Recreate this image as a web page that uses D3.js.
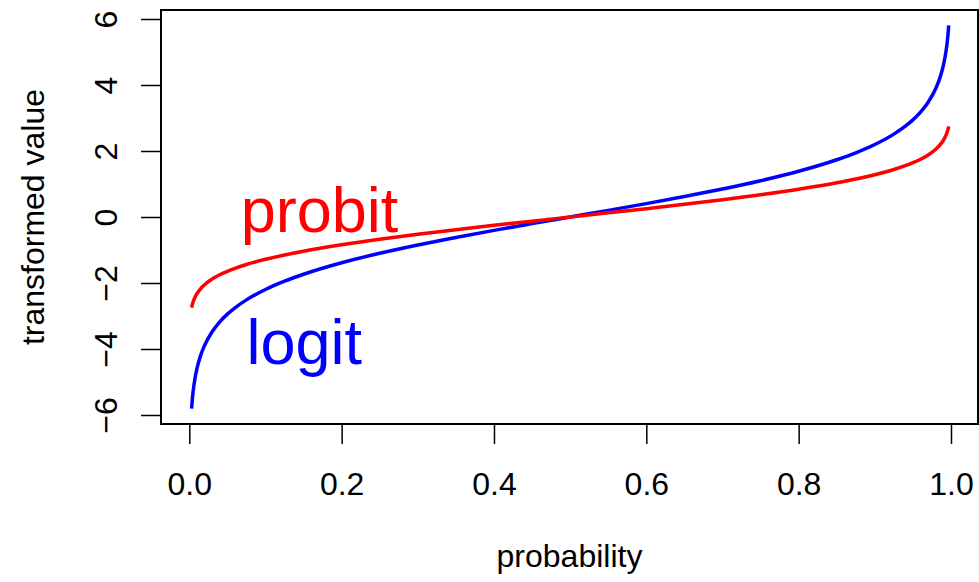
<!DOCTYPE html>
<html>
<head>
<meta charset="utf-8">
<script src="https://cdn.jsdelivr.net/npm/d3@7"></script>
<style>
  html, body { margin: 0; padding: 0; background: #fff; }
  svg text { font-family: "Liberation Sans", Arial, Helvetica, sans-serif; }
</style>
</head>
<body>
<svg id="chart" width="979" height="582"></svg>
<script>
// Probability grid and the two link transforms evaluated on it
const prob = [0.003, 0.004, 0.005, 0.0075, 0.01, 0.015, 0.02, 0.03, 0.04, 0.05, 0.06, 0.075,
  0.1, 0.125, 0.15, 0.2, 0.25, 0.3, 0.35, 0.4, 0.45, 0.5, 0.55, 0.6, 0.65, 0.7, 0.75, 0.8,
  0.85, 0.875, 0.9, 0.925, 0.94, 0.95, 0.96, 0.97, 0.98, 0.985, 0.99, 0.9925, 0.995, 0.996, 0.997];
const logitVals = [-5.806, -5.517, -5.293, -4.885, -4.595, -4.185, -3.892, -3.476, -3.178, -2.944,
  -2.752, -2.512, -2.197, -1.946, -1.735, -1.386, -1.099, -0.847, -0.619, -0.405, -0.201, 0,
  0.201, 0.405, 0.619, 0.847, 1.099, 1.386, 1.735, 1.946, 2.197, 2.512, 2.752, 2.944, 3.178,
  3.476, 3.892, 4.185, 4.595, 4.885, 5.293, 5.517, 5.806];
const probitVals = [-2.748, -2.652, -2.576, -2.432, -2.326, -2.170, -2.054, -1.881, -1.751, -1.645,
  -1.555, -1.440, -1.282, -1.150, -1.036, -0.842, -0.674, -0.524, -0.385, -0.253, -0.126, 0,
  0.126, 0.253, 0.385, 0.524, 0.674, 0.842, 1.036, 1.150, 1.282, 1.440, 1.555, 1.645, 1.751,
  1.881, 2.054, 2.170, 2.326, 2.432, 2.576, 2.652, 2.748];

const xTicks = [0, 0.2, 0.4, 0.6, 0.8, 1.0];
const xTickLabels = ["0.0", "0.2", "0.4", "0.6", "0.8", "1.0"];
const yTicks = [-6, -4, -2, 0, 2, 4, 6];
const yTickLabels = ["\u22126", "\u22124", "\u22122", "0", "2", "4", "6"];

// In-plot labels placed in data coordinates
const curveLabels = [
  { name: "probit", p: 0.171, v: 0, color: "#ff0000" },
  { name: "logit", p: 0.151, v: -4, color: "#0000ff" }
];

const svg = d3.select("#chart");
const box = { left: 161, right: 978, top: 10, bottom: 424 };

const x = d3.scaleLinear().domain([0, 1]).range([189.3, 951]);
const y = d3.scaleLinear().domain([-6, 6]).range([415, 19]);

const fontSize = 32;

// Bottom axis
const xAxis = d3.axisBottom(x)
  .tickValues(xTicks)
  .tickFormat((d, i) => xTickLabels[i])
  .tickSize(20);
const gx = svg.append("g").attr("transform", `translate(0,${box.bottom})`).call(xAxis);
gx.select(".domain").remove();
gx.selectAll(".tick line").attr("stroke", "#000").attr("stroke-width", 1.5);
gx.selectAll(".tick text")
  .attr("font-size", fontSize)
  .attr("fill", "#000")
  .attr("dy", null)
  .attr("y", 71);

// Left axis (labels rotated parallel to the axis)
const yAxis = d3.axisLeft(y)
  .tickValues(yTicks)
  .tickFormat((d, i) => yTickLabels[i])
  .tickSize(20);
const gy = svg.append("g").attr("transform", `translate(${box.left},0)`).call(yAxis);
gy.select(".domain").remove();
gy.selectAll(".tick line").attr("stroke", "#000").attr("stroke-width", 1.5);
gy.selectAll(".tick text")
  .attr("font-size", fontSize)
  .attr("fill", "#000")
  .attr("x", null)
  .attr("dy", null)
  .attr("text-anchor", "middle")
  .attr("transform", "translate(-44,0) rotate(-90)");

// Plot frame
svg.append("rect")
  .attr("x", box.left).attr("y", box.top)
  .attr("width", box.right - box.left).attr("height", box.bottom - box.top)
  .attr("fill", "none").attr("stroke", "#000").attr("stroke-width", 2);

// Curves
const line = d3.line()
  .x((d, i) => x(prob[i]))
  .y(d => y(d))
  .curve(d3.curveMonotoneX);

svg.append("path").datum(logitVals)
  .attr("d", line).attr("fill", "none")
  .attr("stroke", "#0000ff").attr("stroke-width", 3.5);

svg.append("path").datum(probitVals)
  .attr("d", line).attr("fill", "none")
  .attr("stroke", "#ff0000").attr("stroke-width", 3.5);

// Curve names
svg.selectAll("text.curve-label").data(curveLabels).enter().append("text")
  .attr("class", "curve-label")
  .attr("x", d => x(d.p))
  .attr("y", d => y(d.v) + 15)
  .attr("text-anchor", "middle")
  .attr("font-size", 63)
  .attr("fill", d => d.color)
  .text(d => d.name);

// Axis titles
svg.append("text")
  .attr("x", (box.left + box.right) / 2)
  .attr("y", 567)
  .attr("text-anchor", "middle")
  .attr("font-size", fontSize)
  .text("probability");

svg.append("text")
  .attr("transform", `translate(44,${(box.top + box.bottom) / 2}) rotate(-90)`)
  .attr("text-anchor", "middle")
  .attr("font-size", fontSize)
  .text("transformed value");
</script>
</body>
</html>
